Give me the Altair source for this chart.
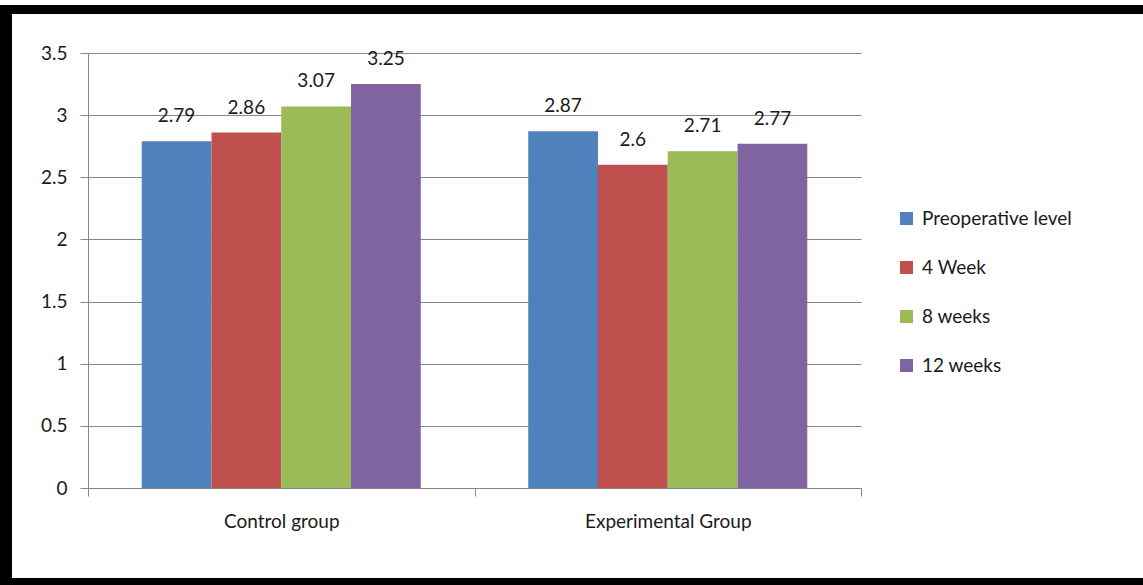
import altair as alt
import pandas as pd

groups = ["Control group", "Experimental  Group"]
series = ["Preoperative level", "4 Week", "8 weeks", "12 weeks"]
values = {
    "Control group": [2.79, 2.86, 3.07, 3.25],
    "Experimental  Group": [2.87, 2.6, 2.71, 2.77],
}
colors = ["#4F81BD", "#C0504D", "#9BBB59", "#8064A2"]
y_ticks = [0, 0.5, 1, 1.5, 2, 2.5, 3, 3.5]

rows = []
for g in groups:
    for s, v in zip(series, values[g]):
        rows.append({"group": g, "series": s, "value": v})
df = pd.DataFrame(rows)

FONT = "Lato"
W, H = 773, 435

frame = pd.DataFrame([{"k": 1}])
left_strip = alt.Chart(frame).mark_rect(color="black").encode(
    x=alt.value(-88), x2=alt.value(-76), y=alt.value(-48), y2=alt.value(532)
)
top_strip = alt.Chart(frame).mark_rect(color="black").encode(
    x=alt.value(-88), x2=alt.value(1055), y=alt.value(-48), y2=alt.value(-39)
)
bottom_strip = alt.Chart(frame).mark_rect(color="black").encode(
    x=alt.value(-88), x2=alt.value(1055), y=alt.value(525), y2=alt.value(532)
)

x_enc = alt.X(
    "group:N",
    sort=groups,
    title=None,
    scale=alt.Scale(paddingInner=0, paddingOuter=0),
    axis=alt.Axis(
        labelAngle=0,
        labelFont=FONT,
        labelFontSize=19,
        labelColor="#1a1a1a",
        labelPadding=16,
        tickBand="extent",
        tickSize=8,
        tickColor="#868686",
        domainColor="#868686",
        grid=False,
    ),
)

bars = alt.Chart(df).mark_bar().encode(
    x=x_enc,
    xOffset=alt.XOffset(
        "series:N", sort=series,
        scale=alt.Scale(paddingInner=0, paddingOuter=0.77),
    ),
    y=alt.Y(
        "value:Q",
        title=None,
        scale=alt.Scale(domain=[0, 3.5], nice=False),
        axis=alt.Axis(
            values=y_ticks,
            format="~g",
            labelFont=FONT,
            labelFontSize=19,
            labelColor="#1a1a1a",
            labelPadding=13,
            tickSize=8,
            tickColor="#868686",
            domainColor="#868686",
            gridColor="#868686",
            gridWidth=1,
        ),
    ),
    color=alt.Color(
        "series:N",
        sort=series,
        scale=alt.Scale(domain=series, range=colors),
        legend=alt.Legend(
            title=None,
            orient="none",
            legendX=809,
            legendY=156,
            symbolType="square",
            symbolSize=169,
            symbolStrokeWidth=0,
            labelFont=FONT,
            labelFontSize=19,
            labelColor="#1a1a1a",
            labelOffset=6,
            rowPadding=29,
            padding=0,
        ),
    ),
)

labels = alt.Chart(df).mark_text(
    font=FONT, fontSize=19, color="#1a1a1a", baseline="bottom", dy=-15
).encode(
    x=alt.X("group:N", sort=groups),
    xOffset=alt.XOffset(
        "series:N", sort=series,
        scale=alt.Scale(paddingInner=0, paddingOuter=0.77),
    ),
    y="value:Q",
    text=alt.Text("value:Q"),
)

chart = (
    alt.layer(left_strip, top_strip, bottom_strip, bars, labels)
    .properties(
        width=W,
        height=H,
        autosize=alt.AutoSizeParams(type="none"),
        padding={"left": 88, "top": 53, "right": 282, "bottom": 97},
        background="white",
    )
    .configure_view(stroke=None)
)

chart.save("out.html", embed_options={"renderer": "svg", "actions": False})
